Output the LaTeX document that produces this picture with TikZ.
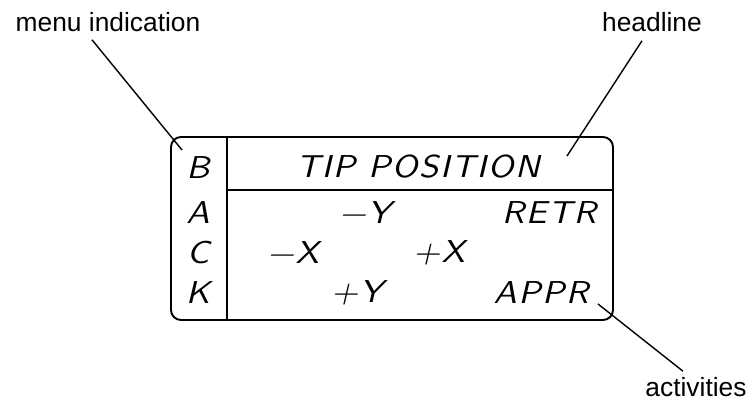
\documentclass[tikz,border=0pt]{standalone}
\usepackage{fontspec}
\usepackage{tikz}
\usetikzlibrary{positioning,calc}
\setmainfont{Liberation Sans}
\newfontfamily\isofont{lmsans10-oblique.otf}[FakeStretch=1.1,LetterSpace=5]

\begin{document}
\begin{tikzpicture}[
    frame/.style={line width=1.1pt, black},
    leader/.style={line width=0.8pt, black},
    callout/.style={font=\fontsize{15}{18}\selectfont, inner sep=1pt},
    disp/.style={font=\isofont\fontsize{18}{20}\selectfont, inner sep=1pt}]

    \useasboundingbox (0,0) rectangle (14.92,8.02);

    % Display frame
    \draw[frame, rounded corners=0.2cm] (3.42,1.62) rectangle (12.26,5.28);
    \draw[frame] (4.54,5.28) -- (4.54,1.62);
    \draw[frame] (4.54,4.22) -- (12.26,4.22);

    % Menu column
    \node[disp] (b) at (3.96,4.66) {B};
    \node[disp] (a) at (3.96,3.76) {A};
    \node[disp] (c) at (3.96,2.96) {C};
    \node[disp] (k) at (3.96,2.16) {K};

    % Headline
    \node[disp] (title) at (8.36,4.68) {TIP POSITION};

    % Activities
    \node[disp] (mY) at (7.30,3.76) {−Y};
    \node[disp] (retr) at (10.98,3.76) {RETR};
    \node[disp] (mX) at (5.86,2.96) {−X};
    \node[disp] (pX) at (8.78,2.96) {+X};
    \node[disp] (pY) at (7.14,2.16) {+Y};
    \node[disp] (appr) at (10.82,2.16) {APPR};

    % Callouts
    \node[callout] (menu) at (2.16,7.58) {menu indication};
    \node[callout] (headline) at (13.04,7.58) {headline};
    \node[callout] (activities) at (13.92,0.28) {activities};

    \coordinate (menuend) at (3.64,5.02);
    \coordinate (headend) at (11.34,4.90);
    \coordinate (actend) at (11.96,1.94);

    \draw[leader] ($(menu.south)+(-0.32,-0.12)$) -- (menuend);
    \draw[leader] ($(headline.south)+(-0.20,-0.14)$) -- (headend);
    \draw[leader] ($(activities.north)+(-0.26,0.08)$) -- (actend);
\end{tikzpicture}
\end{document}
